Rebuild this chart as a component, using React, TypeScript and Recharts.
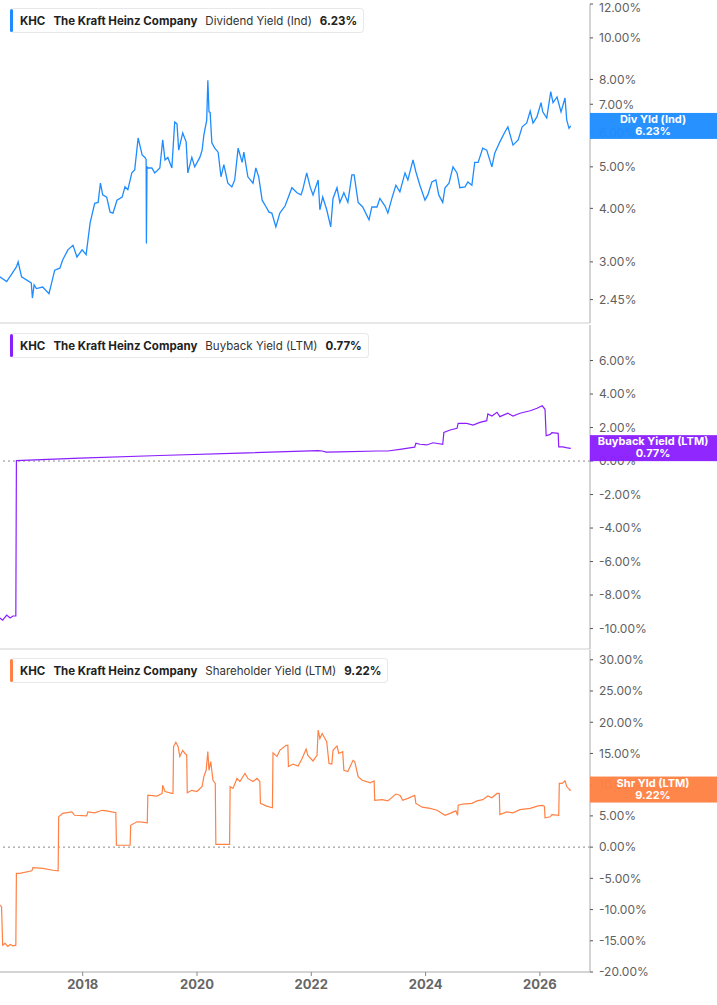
import React from 'react';
import { LineChart, Line, XAxis, YAxis, ReferenceLine } from 'recharts';

// x range shared by all three panels (decimal years)
const X_DOMAIN = [2016.553, 2026.877];
const YEAR_TICKS = [2018, 2020, 2022, 2024, 2026];

// Dividend Yield (Ind)
const DIV_DATES = [
  2016.55, 2016.67, 2016.84, 2016.87, 2016.93, 2017.1, 2017.12, 2017.15, 2017.19, 2017.3,
  2017.41, 2017.51, 2017.6, 2017.65, 2017.74, 2017.83, 2017.9, 2017.99, 2018.06, 2018.13,
  2018.21, 2018.27, 2018.31, 2018.35, 2018.42, 2018.48, 2018.53, 2018.6, 2018.69, 2018.74,
  2018.79, 2018.86, 2018.91, 2018.97, 2019.04, 2019.09, 2019.11, 2019.115, 2019.125, 2019.14,
  2019.21, 2019.26, 2019.35, 2019.4, 2019.44, 2019.49, 2019.56, 2019.61, 2019.65, 2019.68,
  2019.75, 2019.81, 2019.84, 2019.91, 2019.96, 2020.05, 2020.09, 2020.12, 2020.17, 2020.19,
  2020.21, 2020.23, 2020.26, 2020.31, 2020.37, 2020.42, 2020.47, 2020.54, 2020.61, 2020.66,
  2020.72, 2020.79, 2020.82, 2020.89, 2020.98, 2021.03, 2021.08, 2021.14, 2021.21, 2021.26,
  2021.31, 2021.38, 2021.45, 2021.54, 2021.59, 2021.66, 2021.75, 2021.82, 2021.85, 2021.92,
  2021.98, 2022.03, 2022.12, 2022.15, 2022.2, 2022.27, 2022.34, 2022.38, 2022.45, 2022.5,
  2022.57, 2022.64, 2022.71, 2022.75, 2022.82, 2022.9, 2023.01, 2023.06, 2023.15, 2023.2,
  2023.29, 2023.34, 2023.41, 2023.48, 2023.55, 2023.64, 2023.69, 2023.78, 2023.83, 2023.9,
  2023.99, 2024.04, 2024.11, 2024.18, 2024.23, 2024.3, 2024.34, 2024.41, 2024.48, 2024.55,
  2024.6, 2024.69, 2024.74, 2024.81, 2024.86, 2024.92, 2025.0, 2025.07, 2025.16, 2025.21,
  2025.3, 2025.39, 2025.44, 2025.53, 2025.62, 2025.69, 2025.77, 2025.83, 2025.88, 2025.95,
  2026.02, 2026.05, 2026.12, 2026.19, 2026.23, 2026.3, 2026.37, 2026.44, 2026.47, 2026.51,
  2026.54,
];
const DIV_VALUES = [
  2.77, 2.7, 2.92, 3.0, 2.77, 2.68, 2.47, 2.65, 2.6, 2.62,
  2.53, 2.87, 2.9, 3.03, 3.2, 3.28, 3.08, 3.2, 3.12, 3.7,
  4.11, 4.13, 4.58, 4.3, 4.25, 3.92, 3.9, 4.18, 4.25, 4.49,
  4.42, 4.84, 4.92, 5.84, 5.33, 5.26, 5.2, 3.31, 5.0, 4.97,
  4.97, 4.84, 4.97, 5.78, 5.19, 5.26, 4.97, 6.36, 6.3, 5.47,
  6.0, 5.72, 4.84, 5.26, 5.0, 5.26, 5.47, 5.93, 6.43, 7.96,
  6.72, 6.7, 5.69, 5.53, 5.41, 4.74, 5.06, 4.58, 4.49, 4.66,
  5.53, 5.12, 5.41, 4.74, 4.58, 4.97, 4.74, 4.18, 4.03, 3.92,
  3.9, 3.62, 3.9, 4.05, 4.22, 4.47, 4.35, 4.3, 4.42, 4.84,
  4.49, 4.3, 4.66, 3.97, 4.25, 3.97, 3.62, 4.22, 4.47, 4.13,
  4.35, 4.13, 4.79, 4.79, 4.13, 4.03, 3.76, 4.03, 4.03, 4.22,
  4.05, 3.9, 4.22, 4.53, 4.37, 4.84, 4.66, 5.19, 4.87, 4.53,
  4.18, 4.3, 4.61, 4.66, 4.3, 4.13, 4.47, 4.58, 5.0, 4.84,
  4.47, 4.49, 4.61, 4.53, 5.12, 5.12, 5.53, 5.47, 5.0, 5.38,
  5.72, 6.04, 6.2, 5.62, 5.78, 6.2, 6.33, 6.75, 6.33, 6.55,
  7.06, 6.72, 6.5, 7.49, 7.06, 7.28, 6.72, 7.24, 6.43, 6.15,
  6.23,
];
const DIV_TICKS = [2.16, 2.45, 3, 4, 5, 6, 7, 8, 10, 12];

// Buyback Yield (LTM)
const BUY_DATES = [
  2016.55, 2016.6, 2016.67, 2016.73, 2016.78, 2016.83, 2016.84, 2017.95, 2019.35, 2020.75,
  2022.12, 2022.19, 2022.26, 2022.5, 2023.15, 2023.34, 2023.55, 2023.78, 2023.81, 2023.83,
  2023.9, 2024.02, 2024.13, 2024.3, 2024.32, 2024.43, 2024.55, 2024.57, 2024.72, 2024.83,
  2024.95, 2025.07, 2025.09, 2025.16, 2025.25, 2025.3, 2025.44, 2025.53, 2025.65, 2025.83,
  2025.95, 2026.04, 2026.09, 2026.11, 2026.18, 2026.21, 2026.32, 2026.33, 2026.4, 2026.46,
  2026.53, 2026.54,
];
const BUY_VALUES = [
  -9.37, -9.5, -9.2, -9.37, -9.25, -9.25, 0.02, 0.17, 0.33, 0.47,
  0.62, 0.6, 0.53, 0.55, 0.6, 0.6, 0.7, 0.82, 0.83, 1.06,
  1.0, 0.96, 1.09, 1.0, 1.71, 1.85, 1.95, 2.25, 2.25, 2.15,
  2.31, 2.41, 2.81, 2.69, 2.91, 2.65, 2.85, 2.69, 2.85, 3.0,
  3.15, 3.3, 3.09, 1.51, 1.59, 1.69, 1.65, 0.85, 0.85, 0.8,
  0.76, 0.77,
];
const BUY_TICKS = [-10, -8, -6, -4, -2, 0, 2, 4, 6];

// Shareholder Yield (LTM)
const SHR_DATES = [
  2016.55, 2016.58, 2016.6, 2016.64, 2016.69, 2016.73, 2016.78, 2016.83, 2016.84, 2016.9,
  2017.11, 2017.13, 2017.3, 2017.48, 2017.57, 2017.58, 2017.65, 2017.81, 2017.86, 2018.07,
  2018.09, 2018.21, 2018.34, 2018.42, 2018.58, 2018.59, 2018.83, 2018.84, 2018.95, 2019.04,
  2019.13, 2019.14, 2019.3, 2019.39, 2019.4, 2019.44, 2019.56, 2019.58, 2019.59, 2019.63,
  2019.67, 2019.7, 2019.75, 2019.79, 2019.82, 2019.83, 2019.91, 2020.0, 2020.09, 2020.12,
  2020.16, 2020.19, 2020.21, 2020.24, 2020.28, 2020.32, 2020.33, 2020.57, 2020.58, 2020.63,
  2020.7, 2020.75, 2020.84, 2020.89, 2020.98, 2021.05, 2021.1, 2021.11, 2021.22, 2021.32,
  2021.33, 2021.4, 2021.45, 2021.56, 2021.59, 2021.6, 2021.68, 2021.77, 2021.84, 2021.91,
  2021.94, 2022.03, 2022.1, 2022.12, 2022.15, 2022.19, 2022.27, 2022.31, 2022.36, 2022.38,
  2022.45, 2022.48, 2022.55, 2022.57, 2022.64, 2022.73, 2022.76, 2022.82, 2022.89, 2022.97,
  2023.03, 2023.1, 2023.11, 2023.24, 2023.34, 2023.48, 2023.55, 2023.6, 2023.69, 2023.81,
  2023.83, 2023.94, 2024.08, 2024.2, 2024.34, 2024.43, 2024.53, 2024.56, 2024.57, 2024.65,
  2024.81, 2024.9, 2025.0, 2025.09, 2025.16, 2025.25, 2025.29, 2025.3, 2025.42, 2025.53,
  2025.65, 2025.83, 2025.97, 2026.05, 2026.08, 2026.09, 2026.18, 2026.21, 2026.33, 2026.34,
  2026.39, 2026.44, 2026.47, 2026.53, 2026.54,
];
const SHR_VALUES = [
  -9.3, -9.5, -15.7, -15.4, -15.9, -15.6, -15.8, -15.7, -4.2, -4.2,
  -3.8, -3.3, -3.4, -3.7, -3.8, 4.86, 5.4, 5.65, 5.1, 5.0,
  5.65, 5.5, 5.9, 5.8, 5.5, 0.3, 0.3, 3.5, 4.06, 4.0,
  3.9, 8.33, 8.17, 8.6, 9.9, 8.9, 8.6, 8.6, 16.1, 16.8,
  16.1, 14.5, 15.5, 15.0, 14.8, 8.7, 9.1, 8.9, 9.7, 11.3,
  12.3, 15.3, 12.3, 13.7, 10.7, 10.2, 0.43, 0.43, 9.7, 9.4,
  11.0, 10.5, 11.8, 11.0, 10.5, 11.0, 10.5, 7.0, 6.57, 6.3,
  15.1, 14.5, 15.5, 16.3, 16.3, 12.9, 13.3, 13.0, 14.2, 15.7,
  14.7, 13.8, 14.7, 18.75, 17.4, 18.2, 16.9, 13.4, 13.3, 15.5,
  16.2, 15.0, 15.3, 12.3, 12.1, 13.9, 13.7, 11.3, 10.7, 10.5,
  10.3, 10.6, 7.5, 7.6, 7.4, 8.5, 8.3, 7.5, 7.8, 8.3,
  7.0, 6.4, 6.2, 5.9, 5.1, 5.4, 5.8, 5.1, 6.7, 6.9,
  7.0, 7.4, 7.6, 8.2, 7.9, 8.6, 8.6, 5.2, 5.65, 5.5,
  6.0, 6.2, 6.6, 6.7, 6.5, 4.7, 4.86, 5.2, 5.1, 10.2,
  10.2, 10.6, 9.7, 9.1, 9.22,
];
const SHR_TICKS = [-20, -15, -10, -5, 0, 5, 10, 15, 20, 25, 30];

const BLUE = '#1e8cff';
const PURPLE = '#8b1eff';
const ORANGE = '#ff8144';

const toRows = (dates: number[], values: number[]) => dates.map((t, i) => ({ t, v: values[i] }));
const pct = (v: number) => `${v.toFixed(2)}%`;

const axisTick = { fontSize: 12, fill: '#5f5f5f', fontFamily: 'Inter' };

// 오른쪽 값 배지
const Badge = ({ viewBox, title, value, color }: any) => {
  if (!viewBox) return null;
  const x = viewBox.x + viewBox.width;
  const y = viewBox.y;
  return (
    <g>
      <rect x={x} y={y - 13} width={127} height={26} fill={color} fillOpacity={0.96} />
      <text x={x + 63} y={y - 3} textAnchor="middle" fill="#fff" fontSize={11} fontWeight={700} fontFamily="Inter">
        {title}
      </text>
      <text x={x + 63} y={y + 9} textAnchor="middle" fill="#fff" fontSize={11} fontWeight={700} fontFamily="Inter">
        {value}
      </text>
    </g>
  );
};

// 배지를 축 라벨 위에 그리기 위한 투명 오버레이 차트
const BadgeOverlay = ({ rows, height, top, xHeight, yDomain, scale, value, title, label, color }: any) => (
  <div style={{ position: 'absolute', left: 0, top: 0, pointerEvents: 'none' }}>
    <LineChart width={717} height={height} data={rows} margin={{ top, right: 0, bottom: 0, left: 0 }}>
      <XAxis type="number" dataKey="t" domain={X_DOMAIN} allowDataOverflow tick={false} tickLine={false} axisLine={false} height={xHeight} />
      <YAxis orientation="right" width={127} scale={scale} domain={yDomain} allowDataOverflow tick={false} tickLine={false} axisLine={false} />
      <Line type="linear" dataKey="v" stroke="none" dot={false} isAnimationActive={false} />
      <ReferenceLine
        y={value}
        strokeOpacity={0}
        label={{ content: (p: any) => <Badge viewBox={p.viewBox} title={title} value={label} color={color} /> }}
      />
    </LineChart>
  </div>
);

const Header = ({ color, metric, value }: { color: string; metric: string; value: string }) => (
  <div
    style={{
      position: 'absolute',
      left: 10,
      top: 8,
      height: 25,
      display: 'flex',
      alignItems: 'center',
      gap: 8,
      paddingLeft: 10,
      paddingRight: 6,
      background: '#fff',
      border: '1px solid #e8e8e8',
      borderLeft: 'none',
      borderRadius: 4,
      fontFamily: 'Inter',
      fontSize: 11.5,
      color: '#222',
      boxSizing: 'border-box',
      whiteSpace: 'nowrap',
    }}
  >
    <div style={{ position: 'absolute', left: 0, top: 0, bottom: 0, width: 3, borderRadius: 2, background: color }} />
    <span style={{ fontWeight: 700 }}>KHC</span>
    <span style={{ fontWeight: 700 }}>The Kraft Heinz Company</span>
    <span style={{ fontWeight: 400, color: '#333' }}>{metric}</span>
    <span style={{ fontWeight: 700 }}>{value}</span>
  </div>
);

export default function App() {
  const divRows = toRows(DIV_DATES, DIV_VALUES);
  const buyRows = toRows(BUY_DATES, BUY_VALUES);
  const shrRows = toRows(SHR_DATES, SHR_VALUES);
  return (
    <div style={{ position: 'absolute', left: 0, top: 0, width: 717, height: 1005, background: '#fff' }}>
      {/* Dividend Yield */}
      <div style={{ position: 'relative', width: 717, height: 325 }}>
        <LineChart width={717} height={325} data={divRows} margin={{ top: 4, right: 0, bottom: 0, left: 0 }}>
          <XAxis type="number" dataKey="t" domain={X_DOMAIN} allowDataOverflow tick={false} tickLine={false} height={2} axisLine={{ stroke: '#cfcfcf' }} />
          <YAxis
            orientation="right"
            width={127}
            scale="log"
            domain={[2.16, 12]}
            allowDataOverflow
            ticks={DIV_TICKS}
            tickFormatter={pct}
            tick={axisTick}
            tickSize={3}
            tickMargin={6}
            axisLine={{ stroke: '#aaa' }}
            tickLine={{ stroke: '#555' }}
          />
          <Line type="linear" dataKey="v" stroke={BLUE} strokeWidth={1.3} dot={false} isAnimationActive={false} />
        </LineChart>
        <BadgeOverlay rows={divRows} height={325} top={4} xHeight={2} yDomain={[2.16, 12]} scale="log" value={6.23} title="Div Yld (Ind)" label="6.23%" color={BLUE} />
        <Header color={BLUE} metric="Dividend Yield (Ind)" value="6.23%" />
      </div>

      {/* Buyback Yield */}
      <div style={{ position: 'relative', width: 717, height: 325 }}>
        <LineChart width={717} height={325} data={buyRows} margin={{ top: 0, right: 0, bottom: 0, left: 0 }}>
          <XAxis type="number" dataKey="t" domain={X_DOMAIN} allowDataOverflow tick={false} tickLine={false} height={1} axisLine={{ stroke: '#cfcfcf' }} />
          <YAxis
            orientation="right"
            width={127}
            domain={[-11.22, 8.12]}
            allowDataOverflow
            ticks={BUY_TICKS}
            tickFormatter={pct}
            tick={axisTick}
            tickSize={3}
            tickMargin={6}
            axisLine={{ stroke: '#aaa' }}
            tickLine={{ stroke: '#555' }}
          />
          <ReferenceLine y={0} stroke="#888" strokeDasharray="2 3" />
          <Line type="linear" dataKey="v" stroke={PURPLE} strokeWidth={1.2} dot={false} isAnimationActive={false} />
        </LineChart>
        <BadgeOverlay rows={buyRows} height={325} top={0} xHeight={1} yDomain={[-11.22, 8.12]} scale="auto" value={0.77} title="Buyback Yield (LTM)" label="0.77%" color={PURPLE} />
        <Header color={PURPLE} metric="Buyback Yield (LTM)" value="0.77%" />
      </div>

      {/* Shareholder Yield */}
      <div style={{ position: 'relative', width: 717, height: 355 }}>
        <LineChart width={717} height={355} data={shrRows} margin={{ top: 0, right: 0, bottom: 0, left: 0 }}>
          <XAxis
            type="number"
            dataKey="t"
            domain={X_DOMAIN}
            allowDataOverflow
            ticks={YEAR_TICKS}
            height={33}
            tick={{ fontSize: 13, fontWeight: 700, fill: '#666', fontFamily: 'Inter' }}
            tickSize={4}
            tickMargin={4}
            axisLine={{ stroke: '#aaa' }}
            tickLine={{ stroke: '#888' }}
          />
          <YAxis
            orientation="right"
            width={127}
            domain={[-20, 31.57]}
            allowDataOverflow
            ticks={SHR_TICKS}
            tickFormatter={pct}
            tick={axisTick}
            tickSize={3}
            tickMargin={6}
            axisLine={{ stroke: '#aaa' }}
            tickLine={{ stroke: '#555' }}
          />
          <ReferenceLine y={0} stroke="#888" strokeDasharray="2 3" />
          <Line type="linear" dataKey="v" stroke={ORANGE} strokeWidth={1.2} dot={false} isAnimationActive={false} />
        </LineChart>
        <BadgeOverlay rows={shrRows} height={355} top={0} xHeight={33} yDomain={[-20, 31.57]} scale="auto" value={9.22} title="Shr Yld (LTM)" label="9.22%" color={ORANGE} />
        <Header color={ORANGE} metric="Shareholder Yield (LTM)" value="9.22%" />
      </div>
    </div>
  );
}
